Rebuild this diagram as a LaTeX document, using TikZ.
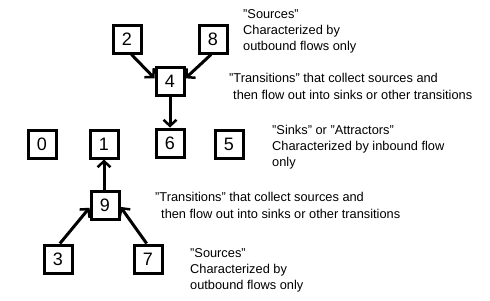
\documentclass[tikz,border=0pt]{standalone}
\usepackage{fontspec}
\setmainfont{Liberation Sans}[Ligatures=NoCommon]
\usetikzlibrary{arrows.meta}
\newcommand{\dq}{\symbol{34}}
\begin{document}
\begin{tikzpicture}[x=1pt,y=1pt,
  box/.style={draw, line width=3pt, minimum size=28pt, inner sep=0pt, font=\fontsize{18}{18}\selectfont},
  flow/.style={line width=3pt, -{Straight Barb[length=6pt,width=13pt,line width=2.5pt]}},
  lbl/.style={anchor=base west, inner sep=0pt, font=\fontsize{12.8}{14}\selectfont}]
\useasboundingbox (0,0) rectangle (490,-300);
\node[box] (n2) at (127,-39) {2};
\node[box] (n8) at (213,-39) {8};
\node[box] (n4) at (170,-81) {4};
\node[box] (n0) at (42,-144) {0};
\node[box] (n1) at (104,-144) {1};
\node[box] (n6) at (170,-143) {6};
\node[box] (n5) at (229,-144) {5};
\node[box] (n9) at (105,-205) {9};
\node[box] (n3) at (58,-259) {3};
\node[box] (n7) at (148,-259) {7};
\draw[flow] (n2.-74) -- (n4.170);
\draw[flow] (n8.-97) -- (n4.10);
\draw[flow] (n4.south) -- (n6.north);
\draw[flow] (n9.north -| n1) -- (n1.south);
\draw[flow] (n3.83) -- (n9.190);
\draw[flow] (n7.95) -- (n9.-7);
\node[lbl] (a1) at (243,-18) {\dq Sources\dq};
\node[lbl] (a2) at (243,-34) {Characterized by};
\node[lbl] (a3) at (243,-50) {outbound flows only};
\node[lbl] (b1) at (229,-82) {\dq Transitions\dq{} that collect sources and};
\node[lbl] (b2) at (233,-99) {then flow out into sinks or other transitions};
\node[lbl] (c1) at (272,-134) {\dq Sinks\dq{} or \dq Attractors\dq};
\node[lbl] (c2) at (272,-150) {Characterized by inbound flow};
\node[lbl] (c3) at (272,-166) {only};
\node[lbl] (d1) at (155,-201) {\dq Transitions\dq{} that collect sources and};
\node[lbl] (d2) at (161,-218) {then flow out into sinks or other transitions};
\node[lbl] (e1) at (190,-257) {\dq Sources\dq};
\node[lbl] (e2) at (190,-273) {Characterized by};
\node[lbl] (e3) at (190,-289) {outbound flows only};
\end{tikzpicture}
\end{document}
